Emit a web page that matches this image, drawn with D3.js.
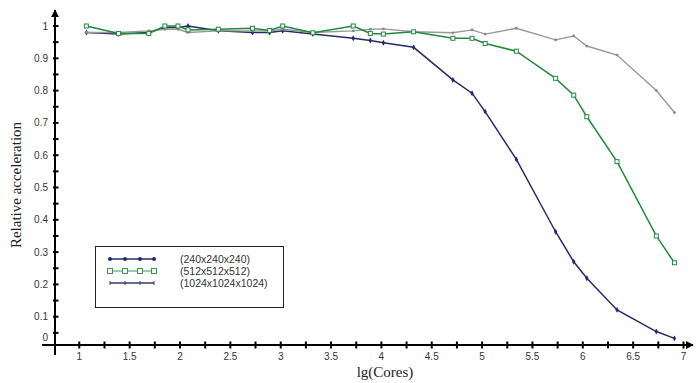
<!DOCTYPE html>
<html lang="en">
<head>
<meta charset="UTF-8">
<title>Relative acceleration</title>
<script src="https://d3js.org/d3.v7.min.js"></script>
<style>
  body { margin: 0; background: #fff; }
  svg { display: block; }
  .tick-label { font-family: "Liberation Sans", Arial, sans-serif; font-size: 10px; fill: #333; }
  .title { font-family: "Liberation Serif", "Times New Roman", serif; font-size: 15px; fill: #222; }
  .legend-text { font-family: "Liberation Sans", Arial, sans-serif; font-size: 10.5px; fill: #333; }
</style>
</head>
<body>
<div id="chart"></div>
<script>
// lg(Cores) values, shared by all series
const xVals = [1.07, 1.39, 1.69, 1.85, 1.98, 2.08, 2.38, 2.72, 2.89, 3.02, 3.32, 3.72, 3.89,
               4.02, 4.32, 4.71, 4.9, 5.03, 5.34, 5.73, 5.91, 6.04, 6.34, 6.73, 6.91];

// relative acceleration per series
const navyVals = [0.98, 0.975, 0.98, 0.995, 0.995, 1.0, 0.985, 0.98, 0.98, 0.985, 0.975, 0.962, 0.955,
                  0.948, 0.934, 0.833, 0.792, 0.735, 0.587, 0.363, 0.27, 0.219, 0.121, 0.054, 0.033];
const greenVals = [1.0, 0.977, 0.977, 1.0, 1.0, 0.988, 0.99, 0.993, 0.986, 1.0, 0.979, 1.0, 0.977,
                   0.975, 0.982, 0.962, 0.962, 0.946, 0.922, 0.838, 0.786, 0.719, 0.58, 0.35, 0.267];
const grayVals = [0.98, 0.98, 0.985, 0.99, 0.99, 0.98, 0.985, 0.985, 0.985, 0.99, 0.98, 0.985, 0.99,
                  0.991, 0.982, 0.979, 0.988, 0.975, 0.993, 0.957, 0.969, 0.938, 0.91, 0.8, 0.732];

const legendNames = ["(240x240x240)", "(512x512x512)", "(1024x1024x1024)"];
const xTicks = d3.range(1, 7.01, 0.5);
const yTicks = d3.range(0, 1.01, 0.1);

const width = 696, height = 383;
const axisY = 345, axisX = 55;

const x = d3.scaleLinear().domain([1, 7]).range([79.3, 683.5]);
const y = d3.scaleLinear().domain([0, 1]).range([349, 26]);

const svg = d3.select("#chart").append("svg")
  .attr("width", width).attr("height", height);

// arrow heads
const defs = svg.append("defs");
defs.append("marker").attr("id", "arrow")
  .attr("viewBox", "0 0 10 10").attr("refX", 9).attr("refY", 5)
  .attr("markerWidth", 4).attr("markerHeight", 4).attr("orient", "auto")
  .append("path").attr("d", "M0,0 L10,5 L0,10 z").attr("fill", "#000");

// axes lines
svg.append("line").attr("x1", 42).attr("x2", 693).attr("y1", axisY).attr("y2", axisY)
  .attr("stroke", "#000").attr("stroke-width", 2).attr("marker-end", "url(#arrow)");
svg.append("line").attr("x1", axisX).attr("x2", axisX).attr("y1", 355).attr("y2", 10)
  .attr("stroke", "#000").attr("stroke-width", 2).attr("marker-end", "url(#arrow)");

// x ticks (minor every 0.25)
const xMinor = d3.range(1, 7.01, 0.25);
svg.append("g").selectAll("line").data(xMinor).join("line")
  .attr("x1", d => x(d)).attr("x2", d => x(d))
  .attr("y1", axisY - 3.5).attr("y2", axisY + 3.5)
  .attr("stroke", "#000").attr("stroke-width", 2);
svg.append("g").selectAll("text").data(xTicks).join("text")
  .attr("class", "tick-label")
  .attr("x", d => x(d)).attr("y", 360)
  .attr("text-anchor", "middle")
  .text(d => d3.format("~g")(+d.toFixed(2)));

// y ticks (minor every 0.05)
const yMinor = d3.range(0.05, 1.01, 0.05);
svg.append("g").selectAll("line").data(yMinor).join("line")
  .attr("x1", axisX - 2).attr("x2", axisX + 3.5)
  .attr("y1", d => y(d)).attr("y2", d => y(d))
  .attr("stroke", "#000").attr("stroke-width", 2);
svg.append("g").selectAll("text").data(yTicks).join("text")
  .attr("class", "tick-label")
  .attr("x", 48)
  .attr("y", d => d === 0 ? 341 : y(d) + 3.5)
  .attr("text-anchor", "end")
  .text(d => d3.format("~g")(+d.toFixed(2)));

// titles
svg.append("text").attr("class", "title")
  .attr("x", 385).attr("y", 377).attr("text-anchor", "middle")
  .text("lg(Cores)");
svg.append("text").attr("class", "title")
  .attr("transform", "translate(21,185) rotate(-90)")
  .attr("text-anchor", "middle")
  .text("Relative acceleration");

const line = d3.line().x(d => x(d[0])).y(d => y(d[1]));
const zip = vals => xVals.map((v, i) => [v, vals[i]]);

// navy series (drawn first, partly hidden at the top)
const navy = zip(navyVals);
svg.append("path").datum(navy).attr("d", line)
  .attr("fill", "none").attr("stroke", "#262a6b").attr("stroke-width", 1.5);
svg.append("g").selectAll("path").data(navy).join("path")
  .attr("d", d3.symbol(d3.symbolDiamond, 10))
  .attr("transform", d => `translate(${x(d[0])},${y(d[1])})`)
  .attr("fill", "#262a6b");

// gray series
const gray = zip(grayVals);
svg.append("path").datum(gray).attr("d", line)
  .attr("fill", "none").attr("stroke", "#999").attr("stroke-width", 1.4);
svg.append("g").selectAll("circle").data(gray).join("circle")
  .attr("cx", d => x(d[0])).attr("cy", d => y(d[1])).attr("r", 1.4)
  .attr("fill", "#888");

// green series
const green = zip(greenVals);
svg.append("path").datum(green).attr("d", line)
  .attr("fill", "none").attr("stroke", "#1f8a3c").attr("stroke-width", 1.5);
svg.append("g").selectAll("rect").data(green).join("rect")
  .attr("x", d => x(d[0]) - 2).attr("y", d => y(d[1]) - 2)
  .attr("width", 4).attr("height", 4)
  .attr("fill", "#fff").attr("stroke", "#1f8a3c").attr("stroke-width", 1);

// legend
const lg = svg.append("g");
lg.append("rect").attr("x", 95.5).attr("y", 246.5).attr("width", 188).attr("height", 61)
  .attr("fill", "#fff").attr("stroke", "#222").attr("stroke-width", 1);
const lx = [110, 125, 140, 154];
const rows = [259, 271, 283];
const legColors = ["#262a6b", "#3a9a50", "#3a3a6a"];
rows.forEach((ry, i) => {
  lg.append("line").attr("x1", lx[0]).attr("x2", lx[3]).attr("y1", ry).attr("y2", ry)
    .attr("stroke", legColors[i]).attr("stroke-width", i === 1 ? 1 : 1.5);
  lx.forEach(px => {
    if (i === 0) {
      lg.append("circle").attr("cx", px).attr("cy", ry).attr("r", 2).attr("fill", legColors[i]);
    } else if (i === 1) {
      lg.append("rect").attr("x", px - 2.5).attr("y", ry - 2.5).attr("width", 5).attr("height", 5)
        .attr("fill", "#fff").attr("stroke", legColors[i]);
    } else {
      lg.append("line").attr("x1", px).attr("x2", px).attr("y1", ry - 2).attr("y2", ry + 2)
        .attr("stroke", legColors[i]).attr("stroke-width", 1);
    }
  });
  lg.append("text").attr("class", "legend-text")
    .attr("x", 180).attr("y", ry + 3.5).text(legendNames[i]);
});
</script>
</body>
</html>
